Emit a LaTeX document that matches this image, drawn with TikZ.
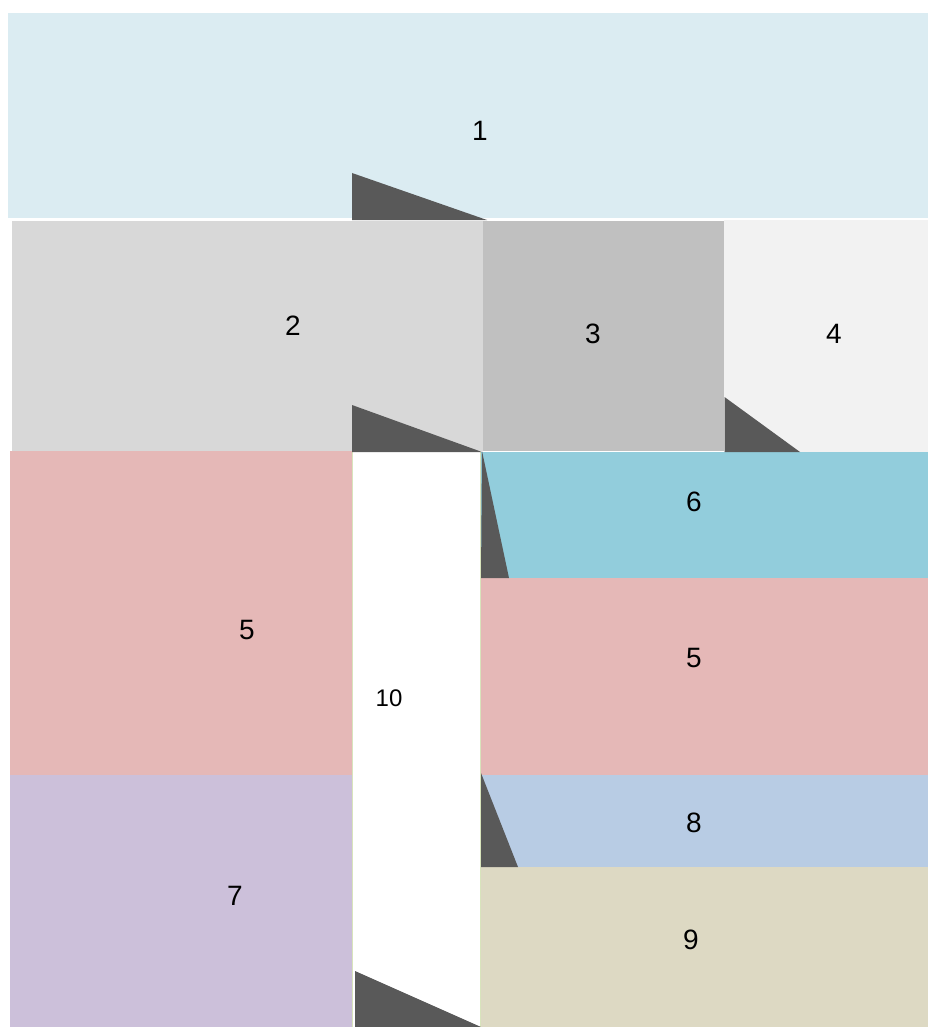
\documentclass[tikz,border=0pt]{standalone}
\usepackage{fontspec}
\setmainfont{Liberation Sans}
\definecolor{cA}{HTML}{DBECF2}
\definecolor{cB}{HTML}{D8D8D8}
\definecolor{cC}{HTML}{C0C0C0}
\definecolor{cD}{HTML}{F2F2F2}
\definecolor{cE}{HTML}{92CDDC}
\definecolor{cF}{HTML}{E5B8B7}
\definecolor{cG}{HTML}{CCC0DA}
\definecolor{cH}{HTML}{B8CCE4}
\definecolor{cI}{HTML}{DDD9C3}
\definecolor{cT}{HTML}{595959}
\definecolor{cL}{HTML}{D8E4BC}
\tikzset{
  lbl/.style={font=\fontsize{28}{28}\selectfont, text=black, inner sep=0pt},
  lblsmall/.style={font=\fontsize{24}{24}\selectfont, text=black, inner sep=0pt},
  wedge/.style={fill=cT},
}
\begin{document}
\begin{tikzpicture}[x=1pt,y=-1pt]
\useasboundingbox (0,0) rectangle (928,1027);
% boxes
\fill[cA] (8,13) rectangle (928,218);
\fill[cB] (12,221) rectangle (483,451);
\fill[cC] (483,221) rectangle (724,451);
\fill[cD] (724,220) rectangle (928,452);
\fill[cF] (10,451) rectangle (352,775);
\fill[cG] (10,775) rectangle (352,1027);
\fill[white] (352,452) rectangle (481,1027);
\draw[cL, line width=1pt] (352.5,452) -- (352.5,1027);
\draw[cL, line width=1pt] (480.5,452) -- (480.5,1027);
\fill[cE] (481,452) rectangle (928,578);
\fill[cF] (481,578) rectangle (928,775);
\fill[cH] (481,775) rectangle (928,867);
\fill[cI] (481,867) rectangle (928,1027);
% wedges
\fill[wedge] (352,173) -- (352,220) -- (487,220) -- cycle;
\fill[wedge] (352,405) -- (352,452) -- (482,452) -- cycle;
\fill[wedge] (724.5,397) -- (724.5,452) -- (800,452) -- cycle;
\fill[wedge] (482,451) -- (481,578) -- (509,578) -- cycle;
\fill[wedge] (481,773) -- (481,867) -- (518,867) -- cycle;
\fill[wedge] (355,971) -- (355,1027) -- (481,1027) -- cycle;
% labels
\node[lbl] (n1) at (480,131) {1};
\node[lbl] (n2) at (293,326) {2};
\node[lbl] (n3) at (593,334) {3};
\node[lbl] (n4) at (834,334) {4};
\node[lbl] (n6) at (694,502) {6};
\node[lbl] (n5a) at (247,630) {5};
\node[lbl] (n5b) at (694,658) {5};
\node[lblsmall] (n10) at (389,698) {10};
\node[lbl] (n8) at (694,823) {8};
\node[lbl] (n7) at (235,896) {7};
\node[lbl] (n9) at (691,940) {9};
\end{tikzpicture}
\end{document}
